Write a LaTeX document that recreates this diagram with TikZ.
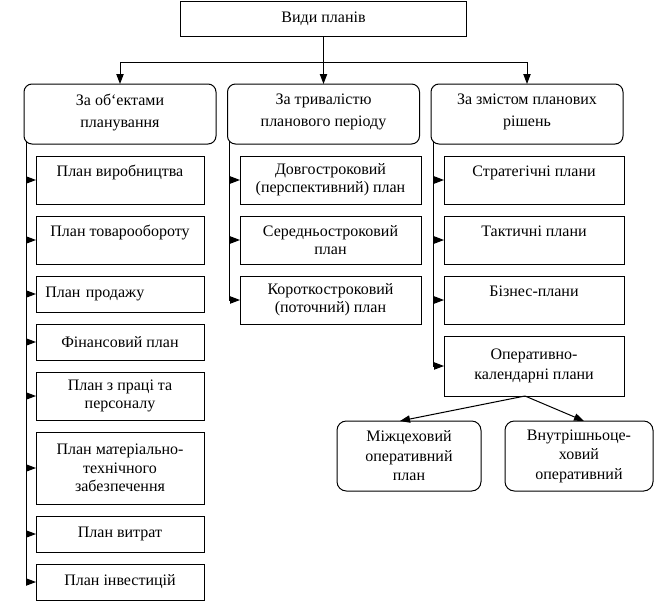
\documentclass[tikz,border=0pt]{standalone}
\usepackage{fontspec}
\setmainfont{Liberation Serif}
\usetikzlibrary{positioning,arrows.meta,calc}
\tikzset{plain box/.style={draw, line width=0.75pt, align=center, inner sep=2pt,
    outer sep=0pt, font=\fontsize{12pt}{13.8pt}\selectfont},
  head box/.style={plain box, rounded corners=6pt, minimum width=144pt,
    minimum height=45pt, text depth=5pt, font=\fontsize{12pt}{16.5pt}\selectfont},
  leaf box/.style={plain box, rounded corners=7pt, minimum height=52.5pt,
    font=\fontsize{12pt}{14.6pt}\selectfont},
  obj box/.style={plain box, minimum width=126pt},
  triv box/.style={plain box, minimum width=135.75pt, minimum height=36pt},
  zmist box/.style={plain box, minimum width=135pt},
  tip line/.style={line width=0.75pt, -{Triangle[length=7.5pt,width=5.5pt]}}}

\begin{document}
\begin{tikzpicture}[x=0.75pt,y=-0.75pt]
\useasboundingbox (0,0) rectangle (660,603);

\node[plain box, minimum width=214.5pt, minimum height=26.25pt] (vydy) at (323.5,18.5) {Види планів};
\node[head box] (objh) at (120,114) {За об`ектами\\планування};
\node[head box] (trivh) at (323.5,114) {За тривалістю\\планового періоду};
\node[head box] (zmisth) at (527,114) {За змістом планових\\рішень};

\node[obj box, minimum height=36pt, anchor=north] (vyr) at (120,156) {План виробництва\\\mbox{}};
\node[obj box, minimum height=36pt, below=9pt of vyr] (tov) {План товарообороту\\\mbox{}};
\node[obj box, minimum height=27pt, below=9pt of tov, inner xsep=7pt, text width=112pt, align=left] (prod) {План продажу};
\node[obj box, minimum height=27pt, below=9pt of prod] (fin) {Фінансовий план};
\node[obj box, minimum height=36pt, below=9pt of fin] (prac) {План з праці та\\персоналу};
\node[obj box, minimum height=54pt, below=9pt of prac] (mat) {План матеріально-\\технічного\\забезпечення};
\node[obj box, minimum height=27pt, below=9pt of mat] (vytr) {План витрат};
\node[obj box, minimum height=27pt, below=9pt of vytr] (inv) {План інвестицій};

\node[triv box, anchor=north] (dovh) at (330.5,156) {Довгостроковий\\(перспективний) план};
\node[triv box, below=9pt of dovh] (ser) {Середньостроковий\\план};
\node[triv box, below=9pt of ser] (kor) {Короткостроковий\\(поточний) план};

\node[zmist box, minimum height=36pt, anchor=north] (strat) at (534,156) {Стратегічні плани\\\mbox{}};
\node[zmist box, minimum height=36pt, below=9pt of strat] (takt) {Тактичні плани\\\mbox{}};
\node[zmist box, minimum height=36pt, below=9pt of takt] (biz) {Бізнес-плани\\\mbox{}};
\node[zmist box, minimum height=45pt, below=9pt of biz, font=\fontsize{12pt}{15pt}\selectfont] (oper) {Оперативно-\\календарні плани};

\node[leaf box, minimum width=108pt, anchor=north] (mizh) at (409,421) {Міжцеховий\\оперативний\\план};
\node[leaf box, minimum width=111pt, anchor=north] (vnut) at (579,421) {Внутрішньоце-\\ховий\\оперативний};

\coordinate (bus) at (0,62);
\draw[tip line] (vydy) -- (trivh);
\draw[tip line] (vydy.south |- bus) -| (objh);
\draw[tip line] (vydy.south |- bus) -| (zmisth);

\coordinate (objv) at ([xshift=1.5pt,yshift=2pt]objh.south west);
\foreach \b in {vyr,tov,prod,fin,prac,mat,vytr}
  \draw[tip line] (objv |- \b.west) -- (\b.west);
\draw[tip line] (objv) |- (inv.west);

\coordinate (trivv) at ([xshift=1.5pt,yshift=2pt]trivh.south west);
\foreach \b in {dovh,ser}
  \draw[tip line] (trivv |- \b.west) -- (\b.west);
\draw[tip line] (trivv) |- (kor.west);

\coordinate (zmistv) at ([xshift=1.5pt,yshift=2pt]zmisth.south west);
\foreach \b in {strat,takt,biz}
  \draw[tip line] (zmistv |- \b.west) -- (\b.west);
\draw[tip line] (zmistv) |- (oper.west);

\coordinate (split) at ([xshift=-6.75pt]oper.south);
\draw[tip line] (split) -- ([xshift=-6.75pt]mizh.north);
\draw[tip line] (split) -- ([xshift=3.75pt]vnut.north);
\end{tikzpicture}
\end{document}
